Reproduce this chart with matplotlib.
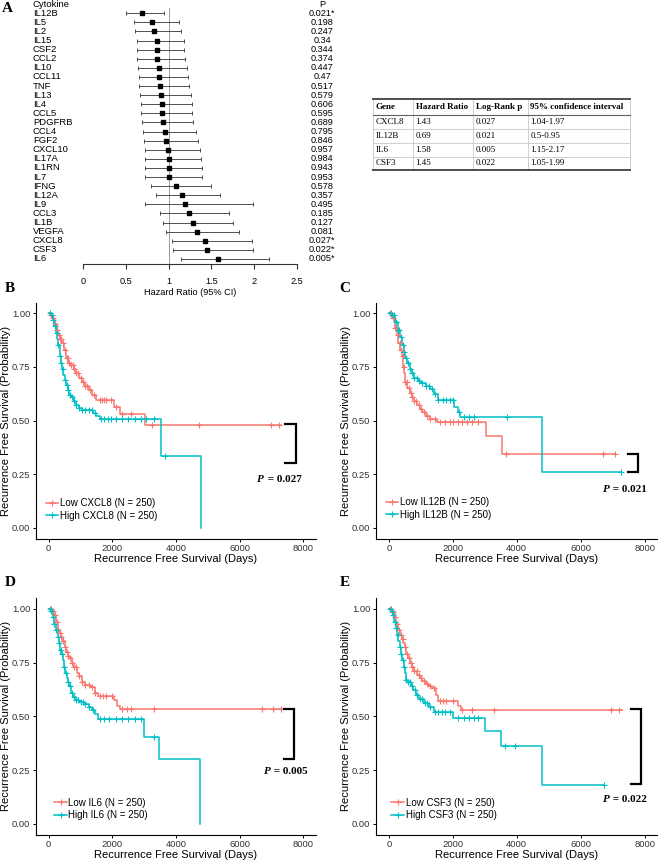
import numpy as np
import matplotlib
matplotlib.use('Agg')
import matplotlib.pyplot as plt
from matplotlib.lines import Line2D

plt.rcParams['font.family'] = ['Liberation Sans', 'DejaVu Sans']

W, H = 658, 860
RED = '#F8766D'
TEAL = '#00BFC4'

# ---------------- Forest plot data ----------------
cytokines = ['IL12B', 'IL5', 'IL2', 'IL15', 'CSF2', 'CCL2', 'IL10', 'CCL11', 'TNF', 'IL13',
             'IL4', 'CCL5', 'PDGFRB', 'CCL4', 'FGF2', 'CXCL10', 'IL17A', 'IL1RN', 'IL7', 'IFNG',
             'IL12A', 'IL9', 'CCL3', 'IL1B', 'VEGFA', 'CXCL8', 'CSF3', 'IL6']
hr = [0.69, 0.81, 0.83, 0.86, 0.86, 0.87, 0.885, 0.89, 0.90, 0.91,
      0.92, 0.92, 0.94, 0.96, 0.97, 0.99, 1.00, 1.01, 1.01, 1.09,
      1.16, 1.19, 1.24, 1.28, 1.33, 1.43, 1.45, 1.58]
ci_low = [0.50, 0.60, 0.61, 0.63, 0.63, 0.63, 0.645, 0.655, 0.66, 0.67,
          0.68, 0.68, 0.69, 0.70, 0.71, 0.72, 0.73, 0.73, 0.73, 0.80,
          0.85, 0.73, 0.90, 0.94, 0.97, 1.04, 1.05, 1.15]
ci_high = [0.95, 1.12, 1.14, 1.18, 1.18, 1.19, 1.22, 1.23, 1.24, 1.26,
           1.27, 1.27, 1.29, 1.32, 1.34, 1.37, 1.38, 1.39, 1.39, 1.50,
           1.60, 1.99, 1.71, 1.75, 1.82, 1.97, 1.99, 2.17]
pvals = ['0.021*', '0.198', '0.247', '0.34', '0.344', '0.374', '0.447', '0.47', '0.517', '0.579',
         '0.606', '0.595', '0.689', '0.795', '0.846', '0.957', '0.984', '0.943', '0.953', '0.578',
         '0.357', '0.495', '0.185', '0.127', '0.081', '0.027*', '0.022*', '0.005*']
forest_ticks = [0, 0.5, 1, 1.5, 2, 2.5]
forest_ticklabels = ['0', '0.5', '1', '1.5', '2', '2.5']

# ---------------- Table data ----------------
tab_header = ['Gene', 'Hazard Ratio', 'Log-Rank p', '95% confidence interval']
tab_genes = ['CXCL8', 'IL12B', 'IL6', 'CSF3']
tab_hr = ['1.43', '0.69', '1.58', '1.45']
tab_p = ['0.027', '0.021', '0.005', '0.022']
tab_ci = ['1.04-1.97', '0.5-0.95', '1.15-2.17', '1.05-1.99']

# ---------------- KM data ----------------
# CXCL8
cxcl8_low_t = [50, 100, 150, 200, 250, 300, 350, 420, 480, 550, 620, 700, 780, 850, 950, 1050,
               1150, 1250, 1350, 1500, 2050, 2250, 3020]
cxcl8_low_s = [0.99, 0.98, 0.97, 0.95, 0.92, 0.90, 0.88, 0.86, 0.83, 0.79, 0.77, 0.76, 0.74,
               0.72, 0.70, 0.68, 0.66, 0.64, 0.62, 0.595, 0.565, 0.53, 0.477]
cxcl8_low_end = 7290
cxcl8_low_cens = [60, 130, 200, 260, 310, 360, 400, 450, 500, 560, 600, 650, 700, 750, 800, 870,
                  920, 1000, 1080, 1150, 1200, 1300, 1420, 1600, 1680, 1750, 1800, 1950, 2100,
                  2300, 2600, 3250, 4720, 6990, 7250]
cxcl8_high_t = [60, 120, 170, 220, 260, 300, 340, 380, 420, 460, 500, 550, 600, 650, 700, 780,
                860, 950, 1050, 1400, 1500, 1600, 3530, 4800]
cxcl8_high_s = [0.99, 0.97, 0.94, 0.91, 0.88, 0.85, 0.80, 0.77, 0.74, 0.71, 0.69, 0.665, 0.64,
                0.62, 0.61, 0.59, 0.57, 0.56, 0.55, 0.535, 0.52, 0.505, 0.335, 0.0]
cxcl8_high_end = 4800
cxcl8_high_cens = [40, 90, 140, 190, 250, 300, 350, 400, 450, 500, 560, 620, 680, 740, 800, 870,
                   950, 1050, 1150, 1250, 1350, 1450, 1650, 1750, 1850, 1950, 2100, 2300, 2500,
                   2700, 2900, 3050, 3300, 3660]

# IL12B
il12b_low_t = [100, 180, 250, 300, 350, 400, 440, 480, 520, 580, 650, 720, 800, 880, 960, 1050,
               1150, 1300, 1500, 3030, 3530]
il12b_low_s = [0.98, 0.93, 0.90, 0.86, 0.83, 0.80, 0.75, 0.72, 0.68, 0.65, 0.63, 0.61, 0.59,
               0.57, 0.555, 0.54, 0.52, 0.505, 0.495, 0.428, 0.342]
il12b_low_end = 7080
il12b_low_cens = [60, 120, 180, 240, 290, 340, 380, 430, 470, 520, 560, 620, 680, 740, 800, 860,
                  940, 1020, 1100, 1200, 1300, 1450, 1600, 1750, 1900, 2000, 2150, 2300, 2450,
                  2600, 2800, 3650, 6700, 7060]
il12b_high_t = [100, 200, 280, 340, 400, 460, 520, 580, 650, 720, 800, 900, 1000, 1150, 1300,
                1420, 1550, 2050, 2150, 2230, 4800]
il12b_high_s = [0.99, 0.96, 0.92, 0.89, 0.85, 0.82, 0.79, 0.77, 0.74, 0.72, 0.70, 0.685, 0.675,
                0.66, 0.645, 0.625, 0.595, 0.565, 0.54, 0.515, 0.26]
il12b_high_end = 7270
il12b_high_cens = [40, 100, 160, 220, 280, 330, 380, 430, 480, 540, 600, 660, 720, 800, 880, 950,
                   1050, 1150, 1250, 1350, 1450, 1550, 1700, 1800, 1900, 2000, 2200, 2350, 2500,
                   2650, 3700, 7250]

# IL6
il6_low_t = [100, 180, 240, 300, 350, 400, 450, 500, 550, 600, 650, 720, 800, 880, 950, 1050,
             1150, 1300, 1450, 1550, 2050, 2150, 2250]
il6_low_s = [0.99, 0.97, 0.94, 0.90, 0.885, 0.87, 0.85, 0.82, 0.80, 0.78, 0.77, 0.75, 0.73,
             0.70, 0.685, 0.66, 0.645, 0.635, 0.61, 0.595, 0.575, 0.55, 0.535]
il6_low_end = 7290
il6_low_cens = [60, 130, 190, 250, 300, 350, 400, 460, 520, 580, 620, 680, 740, 800, 870, 950,
                1050, 1150, 1250, 1350, 1450, 1600, 1700, 1800, 2000, 2300, 2450, 2600, 3300,
                6700, 7050, 7290]
il6_high_t = [60, 120, 180, 230, 280, 320, 360, 400, 440, 480, 520, 560, 600, 650, 700, 760,
              850, 950, 1100, 1250, 1350, 1450, 1550, 2990, 3480, 4760]
il6_high_s = [0.99, 0.96, 0.93, 0.90, 0.87, 0.84, 0.81, 0.79, 0.76, 0.73, 0.70, 0.68, 0.66,
              0.64, 0.61, 0.59, 0.575, 0.565, 0.555, 0.545, 0.53, 0.51, 0.485, 0.405, 0.30, 0.0]
il6_high_end = 4760
il6_high_cens = [30, 80, 130, 180, 230, 280, 330, 380, 430, 480, 540, 600, 660, 720, 780, 850,
                 920, 1000, 1080, 1150, 1250, 1400, 1600, 1750, 1900, 2100, 2300, 2500, 2700,
                 2900, 3300]

# CSF3
csf3_low_t = [100, 180, 240, 300, 350, 400, 450, 500, 550, 600, 650, 720, 800, 880, 960, 1050,
              1150, 1250, 1350, 1480, 1550, 2150, 2250]
csf3_low_s = [0.985, 0.96, 0.93, 0.90, 0.88, 0.86, 0.84, 0.82, 0.79, 0.77, 0.75, 0.73, 0.71,
              0.69, 0.68, 0.665, 0.65, 0.64, 0.63, 0.60, 0.57, 0.55, 0.53]
csf3_low_end = 7290
csf3_low_cens = [60, 130, 200, 260, 320, 380, 440, 500, 560, 620, 680, 740, 800, 870, 940, 1000,
                 1100, 1200, 1300, 1400, 1600, 1700, 1800, 2000, 2300, 2600, 3300, 6950, 7200]
csf3_high_t = [60, 120, 170, 220, 260, 300, 340, 380, 420, 460, 500, 550, 600, 680, 760, 850,
               950, 1100, 1250, 1400, 2020, 3020, 3510, 4790]
csf3_high_s = [0.99, 0.97, 0.94, 0.91, 0.88, 0.85, 0.82, 0.79, 0.76, 0.73, 0.70, 0.67, 0.66,
               0.64, 0.62, 0.60, 0.58, 0.56, 0.545, 0.52, 0.49, 0.43, 0.36, 0.18]
csf3_high_end = 6730
csf3_high_cens = [40, 90, 140, 190, 240, 290, 340, 390, 440, 490, 550, 600, 670, 740, 810, 880,
                  960, 1040, 1120, 1200, 1300, 1450, 1550, 1650, 1750, 1900, 2150, 2350, 2500,
                  2650, 2800, 3640, 3930, 6730]

km_genes = ['CXCL8', 'IL12B', 'IL6', 'CSF3']
km_n = [250, 250]
km_pvals = ['0.027', '0.021', '0.005', '0.022']
km_xticks = [0, 2000, 4000, 6000, 8000]
km_yticks = [0.0, 0.25, 0.5, 0.75, 1.0]
km_yticklabels = ['0.00', '0.25', '0.50', '0.75', '1.00']
# bracket annotations: (x_left, x_right, y_top, y_bottom)
brackets = [(7437, 7781, 0.482, 0.304), (7460, 7790, 0.343, 0.258),
            (7390, 7700, 0.536, 0.302), (7570, 7880, 0.533, 0.185)]
ptext_pos = [(6760, 0.223), (6906, 0.177), (6978, 0.243), (6906, 0.111)]

km_data = [
    (cxcl8_low_t, cxcl8_low_s, cxcl8_low_end, cxcl8_low_cens,
     cxcl8_high_t, cxcl8_high_s, cxcl8_high_end, cxcl8_high_cens),
    (il12b_low_t, il12b_low_s, il12b_low_end, il12b_low_cens,
     il12b_high_t, il12b_high_s, il12b_high_end, il12b_high_cens),
    (il6_low_t, il6_low_s, il6_low_end, il6_low_cens,
     il6_high_t, il6_high_s, il6_high_end, il6_high_cens),
    (csf3_low_t, csf3_low_s, csf3_low_end, csf3_low_cens,
     csf3_high_t, csf3_high_s, csf3_high_end, csf3_high_cens),
]

fig = plt.figure(figsize=(W / 100, H / 100), dpi=100)


def px_rect(left, top, right, bottom):
    return [left / W, (H - bottom) / H, (right - left) / W, (bottom - top) / H]


# ---------------- Forest plot ----------------
axf = fig.add_axes(px_rect(83, 0, 297, 264))
n = len(cytokines)
ypos = np.arange(n)
axf.set_xlim(0, 2.5)
axf.set_ylim(27.55, -1.46)
axf.axvline(1, ymin=0, ymax=0.97, color='#9a9a9a', lw=0.7, zorder=1)
err = [np.array(hr) - np.array(ci_low), np.array(ci_high) - np.array(hr)]
axf.errorbar(hr, ypos, xerr=err, fmt='s', color='black', ecolor='#333333',
             elinewidth=0.6, capsize=1.6, capthick=0.6, markersize=3.0, zorder=3)
for s in ['top', 'right', 'left']:
    axf.spines[s].set_visible(False)
axf.spines['bottom'].set_linewidth(0.8)
axf.spines['bottom'].set_color('#333333')
axf.set_yticks([])
axf.set_xticks(forest_ticks)
axf.set_xticklabels(forest_ticklabels)
axf.tick_params(axis='x', direction='out', length=3.5, width=0.8, color='#333333',
                pad=6, labelsize=6.6)
axf.set_xlabel('Hazard Ratio (95% CI)', fontsize=6.6, labelpad=1.5)
x_name = (33 - 83) / 85.6
x_p = (322 - 83) / 85.6
axf.text(x_name, -0.99, 'Cytokine', fontsize=6.8, ha='left', va='center', clip_on=False)
axf.text(x_p, -0.99, 'P', fontsize=6.6, ha='center', va='center', clip_on=False)
for i in range(n):
    axf.text(x_name, ypos[i], cytokines[i], fontsize=6.8, ha='left', va='center', clip_on=False)
    axf.text(x_p, ypos[i], pvals[i], fontsize=6.6, ha='center', va='center', clip_on=False)

# ---------------- Overlay (table + panel letters) ----------------
ov = fig.add_axes([0, 0, 1, 1])
ov.set_xlim(0, W)
ov.set_ylim(H, 0)
ov.axis('off')
ov.patch.set_alpha(0)

col_x = [373, 413, 473, 528, 630]
row_y = [99, 115, 129.3, 143.3, 156.7, 170]
for y in row_y[2:-1]:
    ov.plot([col_x[0], col_x[-1]], [y, y], color='#c8c8c8', lw=0.6)
for x in col_x:
    ov.plot([x, x], [row_y[0], row_y[-1]], color='#c8c8c8', lw=0.6)
ov.plot([col_x[0], col_x[-1]], [row_y[0], row_y[0]], color='#404040', lw=1.3)
ov.plot([col_x[0], col_x[-1]], [row_y[1], row_y[1]], color='#606060', lw=0.8)
ov.plot([col_x[0], col_x[-1]], [row_y[-1], row_y[-1]], color='#404040', lw=1.3)
serif = ['Liberation Serif', 'DejaVu Serif']
for j, h in enumerate(tab_header):
    ov.text(col_x[j] + 2.5, (row_y[0] + row_y[1]) / 2, h, family=serif, fontsize=6.5,
            fontweight='bold', ha='left', va='center')
rows = list(zip(tab_genes, tab_hr, tab_p, tab_ci))
for i, r in enumerate(rows):
    yc = (row_y[i + 1] + row_y[i + 2]) / 2
    for j, v in enumerate(r):
        ov.text(col_x[j] + 2.5, yc, v, family=serif, fontsize=6.5, ha='left', va='center')

for lab, (x, y) in zip(['A', 'B', 'C', 'D', 'E'],
                       [(7, 8), (10, 288), (345, 288), (10, 583), (345, 583)]):
    ov.text(x, y, lab, family=serif, fontsize=11, fontweight='bold', ha='center', va='center')

# ---------------- KM panels ----------------
panel_px = [(36, 302.5, 316, 538.5), (376, 302.5, 657.6, 538.5),
            (36, 598, 316, 834.5), (376, 598, 657.6, 834.5)]
legend_anchor = [(0.035, 0.075), (0.035, 0.08), (0.065, 0.06), (0.055, 0.06)]


def step_xy(t, s, end):
    x = np.r_[0, np.asarray(t, float), end]
    y = np.r_[1.0, np.asarray(s, float), s[-1]]
    return x, y


def surv_at(times, t, s):
    idx = np.searchsorted(np.asarray(t), np.asarray(times), side='right') - 1
    s_arr = np.r_[np.asarray(s, float), 1.0]
    return np.where(idx < 0, 1.0, s_arr[idx])


for k in range(4):
    l_, t_, r_, b_ = panel_px[k]
    ax = fig.add_axes(px_rect(l_, t_, r_, b_))
    lt, ls, le, lc, ht, hs, he, hc = km_data[k]
    for (t, s, e, c, col) in [(lt, ls, le, lc, RED), (ht, hs, he, hc, TEAL)]:
        x, y = step_xy(t, s, e)
        ax.step(x, y, where='post', color=col, lw=1.1, zorder=2)
        cy = surv_at(c, t, s)
        ax.plot(c, cy, linestyle='none', marker='+', color=col, markersize=5,
                markeredgewidth=0.8, zorder=3)
    ax.set_xlim(-400, 8400)
    ax.set_ylim(-0.05, 1.05)
    ax.set_xticks(km_xticks)
    ax.set_yticks(km_yticks)
    ax.set_yticklabels(km_yticklabels)
    for s_ in ['top', 'right']:
        ax.spines[s_].set_visible(False)
    for s_ in ['left', 'bottom']:
        ax.spines[s_].set_linewidth(0.8)
    ax.tick_params(direction='out', length=2.5, width=0.7, labelsize=6.8, pad=1.5,
                   labelcolor='#333333')
    ax.set_xlabel('Recurrence Free Survival (Days)', fontsize=8, labelpad=1)
    ax.set_ylabel('Recurrence Free Survival (Probability)', fontsize=8)
    ax.yaxis.set_label_coords((l_ - 25 - l_ + 0) / (r_ - l_) if False else (11 - 36) / 280, 0.5)
    # bracket
    xl, xr, yt, yb = brackets[k]
    ax.plot([xl, xr, xr, xl], [yt, yt, yb, yb], color='black', lw=1.6,
            solid_joinstyle='miter', clip_on=False, zorder=4)
    px_, py_ = ptext_pos[k]
    ax.annotate('P', xy=(px_, py_), xytext=(0, 0), textcoords='offset points',
                family=serif, fontsize=8, fontweight='bold', fontstyle='italic',
                ha='right', va='center', annotation_clip=False)
    ax.annotate(' = ' + km_pvals[k], xy=(px_, py_), xytext=(0.5, 0), textcoords='offset points',
                family=serif, fontsize=8, fontweight='bold', ha='left', va='center',
                annotation_clip=False)
    handles = [Line2D([], [], color=RED, lw=1.1, marker='+', markersize=5, markeredgewidth=0.8),
               Line2D([], [], color=TEAL, lw=1.1, marker='+', markersize=5, markeredgewidth=0.8)]
    labels = [f'Low {km_genes[k]} (N = {km_n[0]})', f'High {km_genes[k]} (N = {km_n[1]})']
    ax.legend(handles, labels, loc='lower left', bbox_to_anchor=legend_anchor[k],
              frameon=False, fontsize=7, handlelength=1.3, handletextpad=0.15,
              labelspacing=0.25, borderpad=0, borderaxespad=0)

fig.savefig('out.png', dpi=100)
